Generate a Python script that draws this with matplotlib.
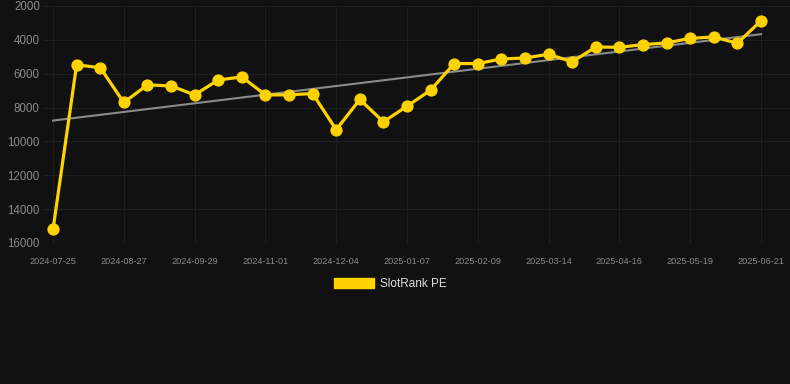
import matplotlib
matplotlib.use("Agg")
import matplotlib.pyplot as plt
from matplotlib.patches import Patch
import numpy as np

tick_labels = ["2024-07-25", "2024-08-27", "2024-09-29", "2024-11-01", "2024-12-04",
               "2025-01-07", "2025-02-09", "2025-03-14", "2025-04-16", "2025-05-19", "2025-06-21"]
rank_values = [15200, 5480, 5640, 7700, 6660, 6720, 7250, 6370, 6190, 7250, 7250, 7170,
               9310, 7520, 8840, 7920, 6970, 5400, 5400, 5130, 5070, 4850, 5300, 4420,
               4440, 4280, 4180, 3910, 3830, 4200, 2870]
series_name = "SlotRank PE"

BG = "#111111"
GOLD = "#FFD200"

plt.rcParams['font.family'] = ['Liberation Sans', 'DejaVu Sans']
fig = plt.figure(figsize=(7.9, 3.84), dpi=100, facecolor=BG)
ax = fig.add_axes([44/790, 141/384, 1 - 44/790, 237/384])
ax.set_facecolor(BG)

x = np.arange(len(rank_values))
y = np.array(rank_values, dtype=float)

# trend line (linear fit)
k, b = np.polyfit(x, y, 1)
ax.plot([x[0], x[-1]], [k*x[0]+b, k*x[-1]+b], color="#8a8a8a", lw=1.5, zorder=2)

ax.plot(x, y, color=GOLD, lw=2.3, marker='o', markersize=7.8, zorder=3, clip_on=False)

ax.set_ylim(16000, 2000)
ax.set_yticks(np.arange(2000, 16001, 2000))
ax.set_xlim(-9/23.6, 30 + 29/23.6)
ax.set_xticks(x[::3])
ax.set_xticklabels(tick_labels)

ax.grid(True, color="#1f1f1f", lw=0.8, zorder=0)
for s in ax.spines.values():
    s.set_visible(False)
ax.tick_params(axis='y', length=0, pad=3, labelsize=8.3, labelcolor="#8a8a8a")
ax.tick_params(axis='x', length=0, pad=10, labelsize=6.6, labelcolor="#8a8a8a")

handle = Patch(facecolor=GOLD, edgecolor=GOLD)
leg = fig.legend([handle], [series_name], loc='center', bbox_to_anchor=(390/790, 1 - 284/384),
                 frameon=False, fontsize=8.5, handlelength=3.4, handleheight=1.0,
                 handletextpad=0.5, labelcolor="#dddddd")

fig.savefig("out.png", dpi=100, facecolor=BG)
